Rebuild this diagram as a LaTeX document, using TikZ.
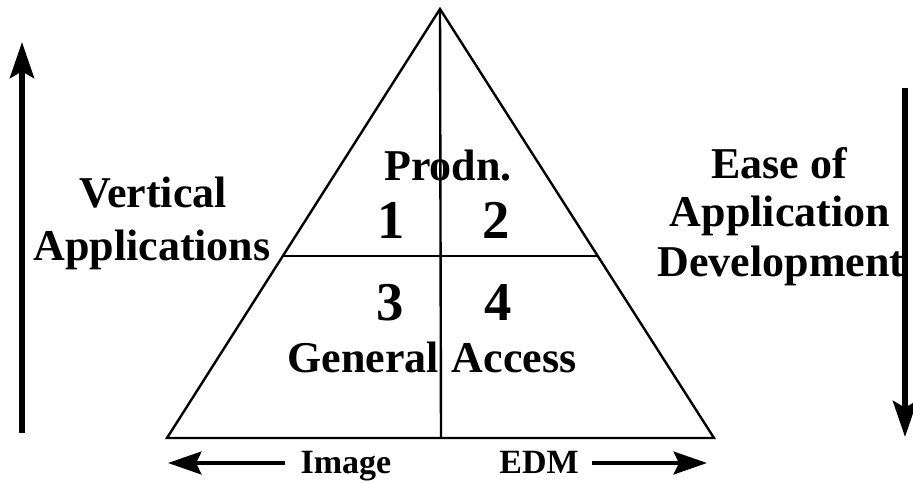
\documentclass[tikz,border=0pt]{standalone}
\usepackage{fontspec}
\setmainfont{Liberation Serif}
\usetikzlibrary{arrows.meta}
\begin{document}
\begin{tikzpicture}[x=0.75pt,y=-0.75pt,
  edge/.style={line width=1.8pt,line join=miter},
  bigarrow/.style={line width=4.4pt,-{Stealth[length=27pt,width=18pt,inset=5pt]}},
  smallarrow/.style={line width=3.4pt,-{Stealth[length=25pt,width=17pt,inset=4pt]}},
  label/.style={anchor=base,inner sep=0pt,font=\bfseries\fontsize{33}{38}\selectfont},
  digit/.style={anchor=base,inner sep=0pt,font=\bfseries\fontsize{41}{48}\selectfont},
  axis/.style={anchor=base,inner sep=0pt,font=\bfseries\fontsize{25.5}{30}\selectfont}]
  \useasboundingbox (0,0) rectangle (913,482);

  % pyramid and its quadrant dividers
  \coordinate (apex) at (440,9);
  \coordinate (bl) at (167,438);
  \coordinate (br) at (714,438);
  \coordinate (bm) at (441,438);
  \coordinate (ml) at (282,256);
  \coordinate (mr) at (598,256);
  \draw[edge] (apex) -- (bl) -- (br) -- cycle;
  \draw[edge] (apex) -- (bm);
  \draw[edge] (ml) -- (mr);

  % quadrant labels
  \node[label] (prodn) at (448,180) {Prodn.};
  \node[digit] (q1) at (391,238) {1};
  \node[digit] (q2) at (496,238) {2};
  \node[digit] (q3) at (390,320) {3};
  \node[digit] (q4) at (498,320) {4};
  \node[label] (general) at (363,372) {General};
  \node[label] (access) at (514,372) {Access};

  % left side: vertical applications
  \coordinate (lbot) at (22,433);
  \coordinate (ltop) at (22,42);
  \draw[bigarrow] (lbot) -- (ltop);
  \node[label] (vert) at (153,207) {Vertical};
  \node[label] (apps) at (152,260) {Applications};

  % right side: ease of application development
  \coordinate (rtop) at (905,88);
  \coordinate (rbot) at (905,437);
  \draw[bigarrow] (rtop) -- (rbot);
  \node[label] (ease) at (779,178) {Ease of};
  \node[label] (appl) at (780,226) {Application};
  \node[label] (devel) at (781,276) {Development};

  % bottom axis
  \node[axis] (image) at (346,473) {Image};
  \node[axis] (edm) at (539,473) {EDM};
  \coordinate (itail) at (285,463);
  \coordinate (itip) at (168,463);
  \coordinate (etail) at (592,463);
  \coordinate (etip) at (707,463);
  \draw[smallarrow] (itail) -- (itip);
  \draw[smallarrow] (etail) -- (etip);
\end{tikzpicture}
\end{document}
